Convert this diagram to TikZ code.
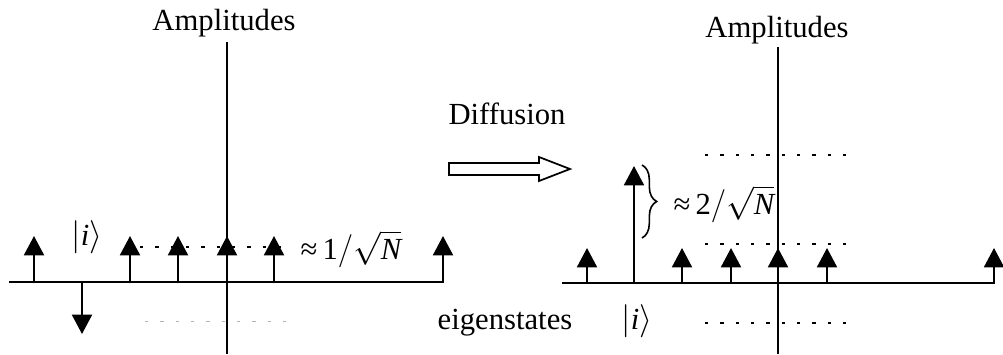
\documentclass[tikz,border=0pt]{standalone}
\usepackage{fontspec}
\setmainfont{Liberation Serif}
\usetikzlibrary{arrows.meta,decorations.pathreplacing}
\begin{document}
\begin{tikzpicture}[x=0.75pt,y=-0.75pt,
  axis/.style={line width=1.5pt},
  spike/.style={line width=1.5pt,-{Triangle[width=15pt,length=14.5pt]}},
  dots/.style={line width=0.8pt,dash pattern=on 2.5pt off 9pt},
  lightdots/.style={line width=0.6pt,gray!60,dash pattern=on 2.5pt off 9pt},
  lbl/.style={font=\fontsize{23}{26}\selectfont,inner sep=0pt}]
\useasboundingbox (0,0) rectangle (1003,354);
% ---------- left plot ----------
\coordinate (LA1) at (9,282);
\coordinate (LA2) at (443,282);
\coordinate (LV1) at (227,42);
\coordinate (LV2) at (227,354);
\draw[axis] (LA1) -- (LA2);
\draw[axis] (LV1) -- (LV2);
\node[lbl] (ampL) at (224,23) {Amplitudes};
\draw[dots] (140,247) coordinate (ld1) -- (292,247) coordinate (ld2);
\draw[lightdots] (145,321) coordinate (ld3) -- (293,321) coordinate (ld4);
\foreach \x/\n in {34/a,130/b,178/c,227/d,274/e,443/f}{
  \coordinate (lb\n) at (\x,283);
  \coordinate (lt\n) at (\x,236);
  \draw[spike] (lb\n) -- (lt\n);
}
\coordinate (lbm) at (82,281);
\coordinate (ltm) at (82,334);
\draw[spike] (lbm) -- (ltm);
\node[lbl] (iL) at (87,237) {$\Bigl|\textit{i}\Bigr\rangle$};
\node[lbl] (oneN) at (351,249) {≈\,1$\big/$$\sqrt{\textit{N}}$};
% ---------- diffusion arrow ----------
\node[lbl] (diff) at (507,114) {Diffusion};
\draw[line width=1.3pt,line join=miter] (449,163) -- (539,163) -- (539,157) -- (570,169) -- (539,181) -- (539,175) -- (449,175) -- cycle;
\node[lbl] (eig) at (505,323) {eigenstates};
% ---------- right plot ----------
\coordinate (RA1) at (562,283);
\coordinate (RA2) at (995,283);
\coordinate (RV1) at (778,47);
\coordinate (RV2) at (778,354);
\draw[axis] (RA1) -- (RA2);
\draw[axis] (RV1) -- (RV2);
\node[lbl] (ampR) at (777,30) {Amplitudes};
\draw[dots] (705,155) coordinate (rd1) -- (853,155) coordinate (rd2);
\draw[dots] (705,244) coordinate (rd3) -- (853,244) coordinate (rd4);
\draw[dots] (705,323) coordinate (rd5) -- (853,323) coordinate (rd6);
\foreach \x/\n in {587/a,682/b,731/c,778/d,827/e,994/f}{
  \coordinate (rb\n) at (\x,284);
  \coordinate (rt\n) at (\x,248);
  \draw[spike] (rb\n) -- (rt\n);
}
\coordinate (rbm) at (634,284);
\coordinate (rtm) at (634,166);
\draw[spike] (rbm) -- (rtm);
\draw[line width=1.2pt,decorate,decoration={brace,amplitude=11pt}] (642,165) coordinate (br1) -- (642,238) coordinate (br2);
\node[lbl] (twoN) at (724,204) {≈\,2$\big/$$\sqrt{\textit{N}}$};
\node[lbl] (iR) at (637,321) {$\Bigl|\textit{i}\Bigr\rangle$};
\end{tikzpicture}
\end{document}
